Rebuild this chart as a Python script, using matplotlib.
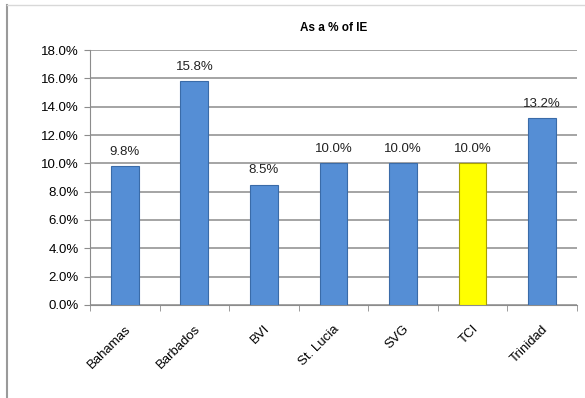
import numpy as np
import matplotlib
matplotlib.use("Agg")
import matplotlib.pyplot as plt
from matplotlib.lines import Line2D
from matplotlib.ticker import FuncFormatter, FixedLocator

countries = ['Bahamas', 'Barbados', 'BVI', 'St. Lucia', 'SVG', 'TCI', 'Trinidad']
pct_of_ie = [9.8, 15.8, 8.5, 10.0, 10.0, 10.0, 13.2]
bar_colors = ['#558ED5', '#558ED5', '#558ED5', '#558ED5', '#558ED5', '#FFFF00', '#558ED5']
edge_colors = ['#3A6BA8', '#3A6BA8', '#3A6BA8', '#3A6BA8', '#3A6BA8', '#A8A000', '#3A6BA8']

plt.rcParams['font.family'] = ['Liberation Sans', 'DejaVu Sans']

fig = plt.figure(figsize=(5.85, 3.98), dpi=100)
ax = fig.add_axes([0.154, 0.234, 0.832, 0.640])

x = np.arange(len(countries))
ax.bar(x, pct_of_ie, width=0.4, color=bar_colors, edgecolor=edge_colors,
       linewidth=0.8, zorder=3)

for xi, v in zip(x, pct_of_ie):
    ax.text(xi, v + 0.6, f'{v:.1f}%', ha='center', va='bottom',
            fontsize=9.5, color='#222222', zorder=4)

ax.set_xlim(-0.5, len(countries) - 0.5)
ax.set_ylim(0, 18)
ax.set_yticks(np.arange(0, 18.1, 2))
ax.yaxis.set_major_formatter(FuncFormatter(lambda v, p: f'{v:.1f}%'))
ax.grid(axis='y', color='#8C8C8C', linewidth=1.1, zorder=0)

ax.set_xticks(x)
ax.set_xticklabels(countries, rotation=45, ha='right', rotation_mode='anchor',
                   fontsize=9.5)
ax.xaxis.set_minor_locator(FixedLocator(np.arange(-0.5, len(countries), 1)))
ax.tick_params(axis='x', which='major', length=0, pad=13)
ax.tick_params(axis='x', which='minor', length=4, color='#8C8C8C')
ax.tick_params(axis='y', length=4, color='#8C8C8C', labelsize=9.5, pad=4)

for side in ['top', 'right']:
    ax.spines[side].set_visible(False)
ax.spines['left'].set_color('#8C8C8C')
ax.spines['bottom'].set_color('#8C8C8C')

ax.set_title('As a % of IE', fontsize=8.5, fontweight='bold', pad=14)

# outer chart frame (left and top edges)
fig.add_artist(Line2D([7 / 585, 7 / 585], [0, 1 - 5 / 398], color='#9A9A9A', linewidth=1.5))
fig.add_artist(Line2D([7 / 585, 1], [1 - 5 / 398, 1 - 5 / 398], color='#D8D8D8', linewidth=1.0))

fig.savefig('out.png', dpi=100)
